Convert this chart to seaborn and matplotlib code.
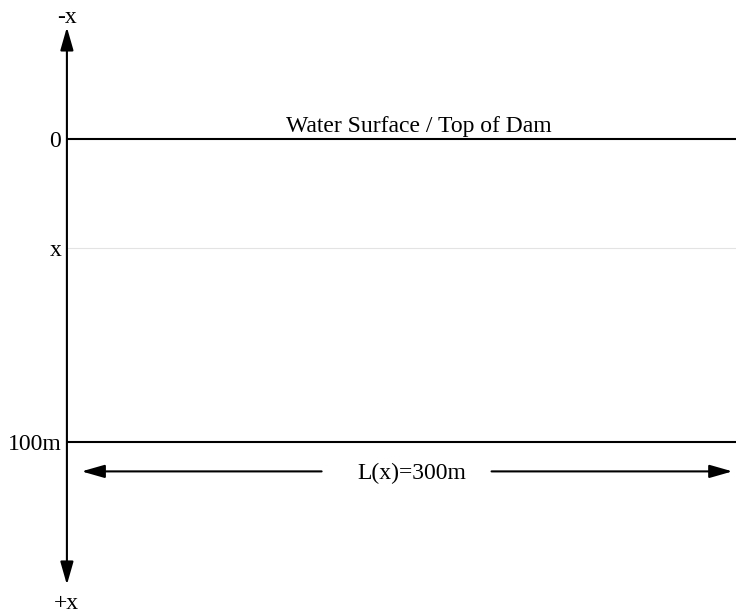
import matplotlib
matplotlib.use("Agg")
import matplotlib.pyplot as plt
import seaborn as sns

# Niveles (profundidad en m) y etiquetas del eje
level_labels = ["0", "x", "100m"]
level_depths = [0, 36, 100]
dam_length = 300
surface_label = "Water Surface / Top of Dam"
length_label = "L(x)=300m"
axis_labels = ["-x", "+x"]

sns.set_style("white")
plt.rcParams["font.family"] = ["Liberation Serif", "DejaVu Serif"]
plt.rcParams["text.color"] = "black"

fig = plt.figure(figsize=(7.36, 6.15), dpi=100)
ax = fig.add_axes([0, 0, 1, 1])
ax.set_xlim(-30, 300)
ax.set_ylim(157, -46)
ax.axis("off")

# Líneas horizontales de nivel
level_styles = [("black", 1.5), ("#e3e3e3", 0.8), ("black", 1.5)]
for depth, (col, lw) in zip(level_depths, level_styles):
    sns.lineplot(x=[0, dam_length], y=[depth, depth], color=col, lw=lw, ax=ax)

# Etiquetas de nivel a la izquierda del eje
for lab, depth in zip(level_labels, level_depths):
    ax.annotate(lab, xy=(0, depth), xytext=(-4, 0), textcoords="offset points",
                ha="right", va="center_baseline", fontsize=17)

# Eje vertical con flechas en ambos extremos
head = dict(arrowstyle="<|-|>,head_length=1.4,head_width=0.4",
            color="black", lw=1.5, shrinkA=0, shrinkB=0, mutation_scale=10)
ax.annotate("", xy=(0, -37), xytext=(0, 147), arrowprops=head)
ax.text(0, -41, axis_labels[0], ha="center", va="center_baseline", fontsize=17)
ax.text(0, 152.3, axis_labels[1], ha="center", va="center_baseline", fontsize=17)

# Texto de la superficie
ax.annotate(surface_label, xy=(158, 0), xytext=(0, 5), textcoords="offset points",
            ha="center", va="baseline", fontsize=17)

# Cota de longitud L(x)
single = dict(arrowstyle="-|>,head_length=1.4,head_width=0.4",
              color="black", lw=1.5, shrinkA=0, shrinkB=0, mutation_scale=10)
y_len = 109.6
ax.annotate("", xy=(6.6, y_len), xytext=(114.2, y_len), arrowprops=single)
ax.annotate("", xy=(298.4, y_len), xytext=(190.4, y_len), arrowprops=single)
ax.text(154.6, y_len, length_label, ha="center", va="center_baseline", fontsize=17)

fig.savefig("out.png", dpi=100)
